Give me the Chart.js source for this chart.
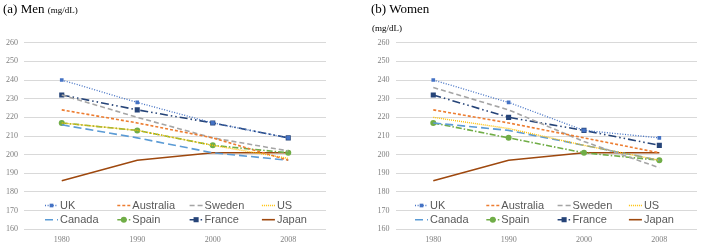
<!DOCTYPE html>
<html>
<head>
<meta charset="utf-8">
<script src="https://cdn.jsdelivr.net/npm/chart.js@4"></script>
<style>
  body { margin: 0; width: 701px; height: 248px; background: #fff; position: relative; overflow: hidden; }
  .panel { position: absolute; top: 0; height: 248px; }
  .title { position: absolute; font-family: "Liberation Serif", serif; color: #000; white-space: nowrap; }
  .title small { font-size: 9px; }
</style>
</head>
<body>
<div class="panel" style="left:0;width:350px"><canvas id="menChart"></canvas></div>
<div class="panel" style="left:350px;width:351px"><canvas id="womenChart"></canvas></div>
<div class="title" style="left:3px;top:1px;font-size:13px">(a) Men <small>(mg/dL)</small></div>
<div class="title" style="left:371px;top:1px;font-size:13px">(b) Women</div>
<div class="title" style="left:372px;top:23px;font-size:9px">(mg/dL)</div>
<script>
// ─── DATA ─────────────────────────────────────────────────────
const years     = ['1980', '1990', '2000', '2008'];
const countries = ['UK', 'Australia', 'Sweden', 'US', 'Canada', 'Spain', 'France', 'Japan'];
const yTicks    = [160, 170, 180, 190, 200, 210, 220, 230, 240, 250, 260];

// men (mg/dL)
const menUK        = [240, 228, 217, 209];
const menAustralia = [224, 217, 209, 197];
const menSweden    = [232, 220, 209, 202];
const menUS        = [217, 213, 205, 198];
const menCanada    = [216, 209, 201, 197];
const menSpain     = [217, 213, 205, 201];
const menFrance    = [232, 224, 217, 209];
const menJapan     = [186, 197, 201, 201];

// women (mg/dL)
const womenUK        = [240, 228, 213, 209];
const womenAustralia = [224, 217, 209, 201];
const womenSweden    = [236, 224, 207, 193];
const womenUS        = [220, 214, 205, 197];
const womenCanada    = [217, 213, 205, 197];
const womenSpain     = [217, 209, 201, 197];
const womenFrance    = [232, 220, 213, 205];
const womenJapan     = [186, 197, 201, 201];

// ─── SERIES STYLES ────────────────────────────────────────────
const styles = {
    UK:        { color: '#4472C4', dash: [1, 1.6], width: 1.3, point: 'rect',   r: 2.6 },
    Australia: { color: '#ED7D31', dash: [3, 2],   width: 1.6, point: false,    r: 0 },
    Sweden:    { color: '#A5A5A5', dash: [5, 3],   width: 1.6, point: false,    r: 0 },
    US:        { color: '#FFC000', dash: [1, 1],   width: 1.4, point: false,    r: 0 },
    Canada:    { color: '#5B9BD5', dash: [8, 4],   width: 1.6, point: false,    r: 0 },
    Spain:     { color: '#70AD47', dash: [6, 2, 1.5, 2], width: 1.6, point: 'circle', r: 3 },
    France:    { color: '#264478', dash: [8, 3, 1.5, 3, 1.5, 3], width: 1.6, point: 'rect', r: 3.6 },
    Japan:     { color: '#9E480E', dash: [],       width: 1.6, point: false,    r: 0 },
};

function makeSets(series) {
    return countries.map((c, i) => {
        const s = styles[c];
        return {
            label: c,
            data: series[i],
            borderColor: s.color,
            backgroundColor: s.color,
            borderWidth: s.width,
            borderDash: s.dash,
            borderCapStyle: 'butt',
            pointStyle: s.point || 'circle',
            pointRadius: s.r,
            pointBorderWidth: 0,
            pointHoverRadius: s.r,
            tension: 0,
            fill: false
        };
    });
}

// ─── LEGEND INSIDE THE PLOT ───────────────────────────────────
const insideLegend = {
    id: 'insideLegend',
    afterDatasetsDraw(chart, args, opts) {
        const ctx = chart.ctx;
        ctx.save();
        chart.data.datasets.forEach((ds, i) => {
            const x = opts.x0 + (i % 4) * opts.dx;
            const y = opts.y0 + Math.floor(i / 4) * opts.dy;
            ctx.strokeStyle = ds.borderColor;
            ctx.lineWidth = ds.borderWidth;
            ctx.setLineDash(ds.borderDash);
            ctx.beginPath();
            ctx.moveTo(x, y);
            ctx.lineTo(x + 13, y);
            ctx.stroke();
            ctx.setLineDash([]);
            if (ds.pointRadius > 0) {
                ctx.fillStyle = ds.backgroundColor;
                Chart.helpers.drawPoint(ctx, { pointStyle: ds.pointStyle, radius: ds.pointRadius, borderWidth: 0 }, x + 6.5, y);
            }
            ctx.fillStyle = '#595959';
            ctx.font = '11px "Liberation Sans", Arial, sans-serif';
            ctx.textBaseline = 'middle';
            ctx.textAlign = 'left';
            ctx.fillText(ds.label, x + 15, y + 0.5);
        });
        ctx.restore();
    }
};

function makeChart(id, series, axisWidth, padRight, legendX0, legendDx) {
    return new Chart(document.getElementById(id), {
        type: 'line',
        data: { labels: years, datasets: makeSets(series) },
        plugins: [insideLegend],
        options: {
            responsive: true,
            maintainAspectRatio: false,
            animation: false,
            events: [],
            layout: { padding: { top: 42.7, right: padRight, bottom: 0, left: 0 } },
            plugins: {
                legend: { display: false },
                tooltip: { enabled: false },
                insideLegend: { x0: legendX0, dx: legendDx, y0: 205.5, dy: 14.2 }
            },
            scales: {
                x: {
                    offset: true,
                    grid: { display: false, drawTicks: false },
                    border: { display: false },
                    ticks: { color: '#7F7F7F', padding: 6, font: { family: '"Liberation Serif", serif', size: 8 } },
                    afterFit: s => { s.height = 18.7; }
                },
                y: {
                    min: 160,
                    max: 260,
                    afterBuildTicks: s => { s.ticks = yTicks.map(v => ({ value: v })); },
                    grid: { color: '#D9D9D9', lineWidth: 1, drawTicks: false },
                    border: { display: false },
                    ticks: { color: '#7F7F7F', padding: 6, font: { family: '"Liberation Serif", serif', size: 8 } },
                    afterFit: s => { s.width = axisWidth; }
                }
            }
        }
    });
}

// ─── INIT ─────────────────────────────────────────────────────
makeChart('menChart',
    [menUK, menAustralia, menSweden, menUS, menCanada, menSpain, menFrance, menJapan],
    24, 24, 45, 72.3);
makeChart('womenChart',
    [womenUK, womenAustralia, womenSweden, womenUS, womenCanada, womenSpain, womenFrance, womenJapan],
    45.6, 4, 65, 71.3);
</script>
</body>
</html>
